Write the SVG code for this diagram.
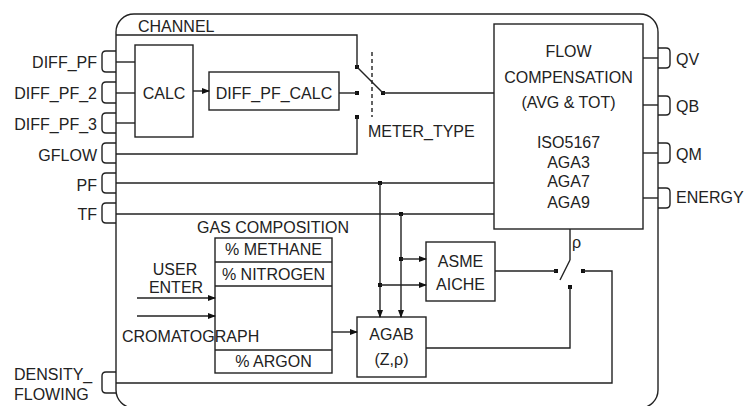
<svg xmlns="http://www.w3.org/2000/svg" width="746" height="406" viewBox="0 0 746 406">
<style>
.ln{fill:none;stroke:#222;stroke-width:1.4}
.bx{fill:#fff;stroke:#222;stroke-width:1.4}
text{font-family:"Liberation Sans",Arial,sans-serif;font-size:16px;fill:#222}
.m{text-anchor:middle}
.e{text-anchor:end}
.dot{fill:#111}
</style>
<defs>
<marker id="ar" markerWidth="8" markerHeight="6" refX="7" refY="3" orient="auto" markerUnits="userSpaceOnUse">
<path d="M0,0 L8,3 L0,6 Z" fill="#111"/>
</marker>
</defs>
<rect width="746" height="406" fill="#fff"/>
<g id="channel">
<rect class="ln" x="116" y="14" width="542" height="394" rx="18" ry="18"/>
<text x="138" y="32">CHANNEL</text>
</g>
<g id="inputs">
<path class="ln" d="M116,51 H106 Q102,51 102,55 V68 Q102,72 106,72 H116"/>
<text class="e" x="97" y="68">DIFF_PF</text>
<path class="ln" d="M116,82 H106 Q102,82 102,86 V99 Q102,103 106,103 H116"/>
<text class="e" x="97" y="99">DIFF_PF_2</text>
<path class="ln" d="M116,113 H106 Q102,113 102,117 V129 Q102,133 106,133 H116"/>
<text class="e" x="97" y="130">DIFF_PF_3</text>
<path class="ln" d="M116,143 H106 Q102,143 102,147 V159 Q102,163 106,163 H116"/>
<text class="e" x="97" y="161">GFLOW</text>
<path class="ln" d="M116,173 H106 Q102,173 102,177 V189 Q102,193 106,193 H116"/>
<text class="e" x="97" y="191">PF</text>
<path class="ln" d="M116,203 H106 Q102,203 102,207 V219 Q102,223 106,223 H116"/>
<text class="e" x="97" y="220">TF</text>
<path class="ln" d="M116,372 H106 Q102,372 102,376 V389 Q102,393 106,393 H116"/>
<text x="14" y="380">DENSITY_</text>
<text x="14" y="400">FLOWING</text>
</g>
<g id="outputs">
<path class="ln" d="M658,48 H666 Q670,48 670,52 V64 Q670,68 666,68 H658"/>
<text x="676" y="65">QV</text>
<path class="ln" d="M658,96 H666 Q670,96 670,100 V111 Q670,115 666,115 H658"/>
<text x="676" y="112">QB</text>
<path class="ln" d="M658,143 H666 Q670,143 670,147 V159 Q670,163 666,163 H658"/>
<text x="676" y="160">QM</text>
<path class="ln" d="M658,188 H666 Q670,188 670,192 V204 Q670,208 666,208 H658"/>
<text x="676" y="203">ENERGY</text>
</g>
<g id="calc">
<rect class="bx" x="135" y="45" width="58" height="92"/>
<text class="m" x="164" y="99">CALC</text>
</g>
<g id="diff_pf_calc">
<rect class="bx" x="209" y="72" width="130" height="38"/>
<text class="m" x="274" y="99">DIFF_PF_CALC</text>
</g>
<g id="flow_compensation">
<rect class="bx" x="494" y="24" width="149" height="205"/>
<text class="m" x="568.5" y="57">FLOW</text>
<text class="m" x="568.5" y="83">COMPENSATION</text>
<text class="m" x="568.5" y="108">(AVG &amp; TOT)</text>
<text class="m" x="568.5" y="148">ISO5167</text>
<text class="m" x="568.5" y="168">AGA3</text>
<text class="m" x="568.5" y="187">AGA7</text>
<text class="m" x="568.5" y="208">AGA9</text>
</g>
<g id="gas_composition">
<text x="197" y="233">GAS COMPOSITION</text>
<rect class="bx" x="215" y="238" width="117" height="135"/>
<line class="ln" x1="215" y1="262" x2="332" y2="262"/>
<line class="ln" x1="215" y1="286" x2="332" y2="286"/>
<line class="ln" x1="215" y1="350" x2="332" y2="350"/>
<text class="m" x="273.5" y="255">% METHANE</text>
<text class="m" x="273.5" y="280">% NITROGEN</text>
<text class="m" x="273.5" y="367">% ARGON</text>
</g>
<g id="asme_aiche">
<rect class="bx" x="426" y="242" width="69" height="59"/>
<text class="m" x="460.5" y="267">ASME</text>
<text class="m" x="460.5" y="290">AICHE</text>
</g>
<g id="agab">
<rect class="bx" x="357" y="317" width="69" height="60"/>
<text class="m" x="391.5" y="340">AGAB</text>
<text class="m" x="391.5" y="365">(Z,ρ)</text>
</g>
<g id="meter_type_switch">
<rect class="dot" x="355" y="65" width="4" height="4"/>
<rect class="dot" x="355" y="91" width="4" height="4"/>
<rect class="dot" x="355" y="115" width="4" height="4"/>
<rect class="dot" x="381" y="91" width="4" height="4"/>
<line class="ln" x1="357" y1="67" x2="383" y2="93"/>
<line class="ln" x1="372" y1="52" x2="372" y2="117" stroke-dasharray="4,3"/>
<text x="368" y="137">METER_TYPE</text>
</g>
<g id="density_switch">
<rect class="dot" x="554" y="269" width="4" height="4"/>
<rect class="dot" x="581" y="269" width="4" height="4"/>
<rect class="dot" x="568" y="285" width="4" height="4"/>
<line class="ln" x1="570" y1="260" x2="560" y2="280"/>
<text x="572" y="248">ρ</text>
</g>
<g id="user_enter">
<text class="m" x="175" y="275">USER</text>
<text class="m" x="176" y="293">ENTER</text>
<text x="122" y="342">CROMATOGRAPH</text>
</g>
<g id="connectors">
<line class="ln" x1="116" y1="62" x2="135" y2="62"/>
<line class="ln" x1="116" y1="93" x2="135" y2="93"/>
<line class="ln" x1="116" y1="123" x2="135" y2="123"/>
<line class="ln" x1="193" y1="91" x2="209" y2="91" marker-end="url(#ar)"/>
<polyline class="ln" points="116,35 357,35 357,67"/>
<line class="ln" x1="339" y1="93" x2="357" y2="93"/>
<polyline class="ln" points="116,154 357,154 357,117"/>
<line class="ln" x1="383" y1="93" x2="494" y2="93"/>
<line class="ln" x1="116" y1="183" x2="494" y2="183"/>
<line class="ln" x1="116" y1="214" x2="494" y2="214"/>
<line class="ln" x1="643" y1="58" x2="658" y2="58"/>
<line class="ln" x1="643" y1="105" x2="658" y2="105"/>
<line class="ln" x1="643" y1="153" x2="658" y2="153"/>
<line class="ln" x1="643" y1="198" x2="658" y2="198"/>
<rect class="dot" x="378" y="181" width="4" height="4"/>
<rect class="dot" x="399" y="212" width="4" height="4"/>
<line class="ln" x1="380" y1="183" x2="380" y2="317" marker-end="url(#ar)"/>
<line class="ln" x1="401" y1="214" x2="401" y2="317" marker-end="url(#ar)"/>
<rect class="dot" x="399" y="257" width="4" height="4"/>
<rect class="dot" x="378" y="283" width="4" height="4"/>
<line class="ln" x1="401" y1="259" x2="426" y2="259" marker-end="url(#ar)"/>
<line class="ln" x1="380" y1="285" x2="426" y2="285" marker-end="url(#ar)"/>
<line class="ln" x1="332" y1="332" x2="357" y2="332" marker-end="url(#ar)"/>
<line class="ln" x1="137" y1="298" x2="215" y2="298" marker-end="url(#ar)"/>
<line class="ln" x1="137" y1="316" x2="215" y2="316" marker-end="url(#ar)"/>
<line class="ln" x1="495" y1="271" x2="556" y2="271"/>
<line class="ln" x1="570" y1="229" x2="570" y2="260"/>
<polyline class="ln" points="426,348 570,348 570,287"/>
<polyline class="ln" points="116,383 612,383 612,271 583,271"/>
</g>
</svg>
